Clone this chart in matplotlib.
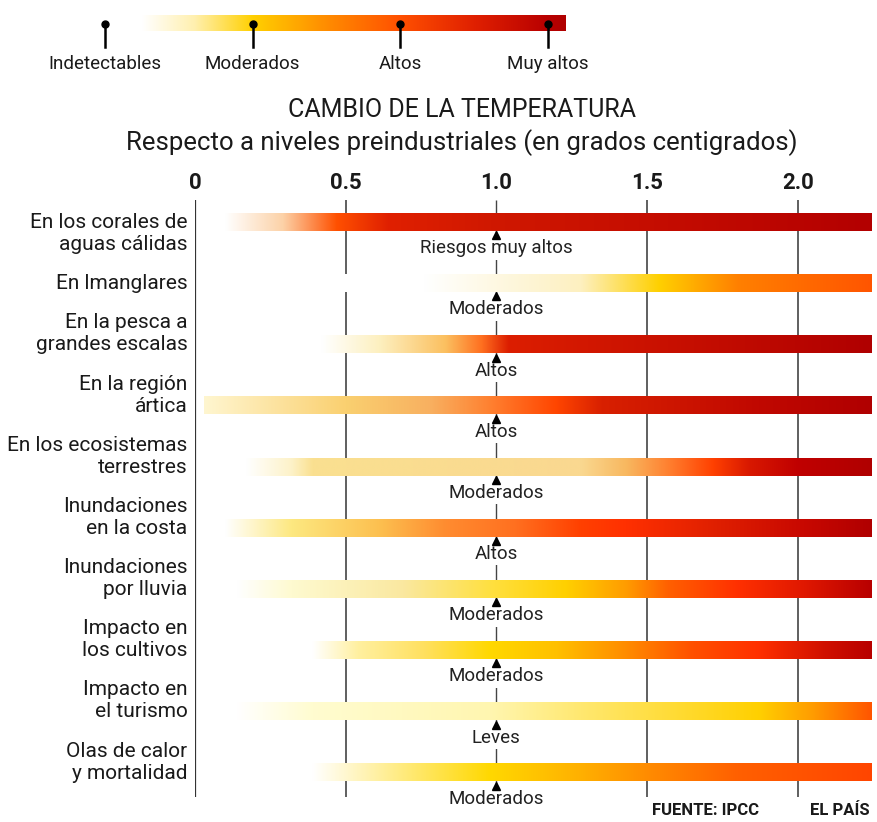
import numpy as np
import matplotlib
matplotlib.use("Agg")
import matplotlib.pyplot as plt

plt.rcParams['font.family'] = ['Roboto', 'DejaVu Sans']

# datos
categorias = ["En los corales de\naguas cálidas", "En lmanglares", "En la pesca a\ngrandes escalas",
              "En la región\nártica", "En los ecosistemas\nterrestres", "Inundaciones\nen la costa",
              "Inundaciones\npor lluvia", "Impacto en\nlos cultivos", "Impacto en\nel turismo",
              "Olas de calor\ny mortalidad"]
riesgo_1grado = ["Riesgos muy altos", "Moderados", "Altos", "Altos", "Moderados", "Altos",
                 "Moderados", "Moderados", "Leves", "Moderados"]
ticks = [0, 0.5, 1.0, 1.5, 2.0]
tick_labels = ["0", "0.5", "1.0", "1.5", "2.0"]
x_ini, x_max = 0.03, 2.245

# gradiente de cada barra: (grados, color)
grad_corales = [(0.0, "#ffffff"), (0.10, "#ffffff"), (0.29, "#fcd2a8"), (0.47, "#ff5000"),
                (0.64, "#e02000"), (0.98, "#d01800"), (1.57, "#c40c00"), (2.245, "#b30000")]
grad_manglares = [(0.0, "#ffffff"), (0.76, "#ffffff"), (1.28, "#fdf0c0"), (1.54, "#ffd000"),
                  (1.80, "#ff8000"), (2.02, "#ff6a00"), (2.245, "#ff5500")]
grad_pesca = [(0.0, "#ffffff"), (0.42, "#ffffff"), (0.61, "#fdf0c0"), (0.83, "#fbc060"),
              (0.95, "#ff7020"), (1.04, "#dc1e00"), (1.57, "#c81000"), (2.245, "#b00000")]
grad_artica = [(0.0, "#fffbe8"), (0.03, "#fff6d0"), (0.5, "#fad070"), (0.78, "#f8b060"),
               (0.98, "#ff8030"), (1.2, "#ff4500"), (1.35, "#d82000"), (1.87, "#c00800"),
               (2.245, "#b00000")]
grad_terrestres = [(0.0, "#ffffff"), (0.17, "#ffffff"), (0.32, "#fdf2c8"), (0.39, "#fae090"),
                   (1.28, "#fad890"), (1.43, "#f8b860"), (1.57, "#ff8030"), (1.72, "#ff4000"),
                   (1.84, "#d81800"), (2.0, "#c00000"), (2.245, "#b00000")]
grad_costa = [(0.0, "#ffffff"), (0.10, "#ffffff"), (0.32, "#fde880"), (0.61, "#fcc050"),
              (0.83, "#ff8c30"), (1.06, "#ff7020"), (1.28, "#ff4000"), (1.43, "#ff3000"),
              (1.72, "#e02000"), (2.02, "#c80800"), (2.245, "#b00000")]
grad_lluvia = [(0.0, "#ffffff"), (0.14, "#ffffff"), (0.32, "#fefad0"), (0.69, "#fae8a0"),
               (0.98, "#ffe040"), (1.23, "#ffd000"), (1.43, "#ff9c00"), (1.57, "#ff6000"),
               (1.80, "#ff3000"), (2.02, "#e01800"), (2.245, "#b80000")]
grad_cultivos = [(0.0, "#ffffff"), (0.39, "#ffffff"), (0.54, "#fff0a0"), (0.76, "#ffe060"),
                 (0.98, "#ffd800"), (1.20, "#ffc000"), (1.43, "#ff8c00"), (1.65, "#ff5000"),
                 (1.87, "#ff3000"), (2.09, "#d01000"), (2.245, "#b80000")]
grad_turismo = [(0.0, "#ffffff"), (0.14, "#ffffff"), (0.39, "#fffcd0"), (0.98, "#fff6b0"),
                (1.28, "#ffe870"), (1.87, "#ffd000"), (2.05, "#ff9c00"), (2.245, "#ff5500")]
grad_olas = [(0.0, "#ffffff"), (0.39, "#ffffff"), (0.61, "#fff0a0"), (0.98, "#ffd800"),
             (1.28, "#ffb000"), (1.50, "#ff8c00"), (1.80, "#ff6000"), (2.245, "#ff4500")]
gradientes = [grad_corales, grad_manglares, grad_pesca, grad_artica, grad_terrestres,
              grad_costa, grad_lluvia, grad_cultivos, grad_turismo, grad_olas]

# leyenda (posiciones en unidades de nivel: 0 = Indetectables ... 3 = Muy altos)
niveles = ["Indetectables", "Moderados", "Altos", "Muy altos"]
grad_leyenda = [(-0.7, "#ffffff"), (0.25, "#ffffff"), (0.6, "#fff0b0"), (1.0, "#ffd000"),
                (1.5, "#ff8c00"), (2.0, "#ff5000"), (2.5, "#e02000"), (3.0, "#b80000"),
                (3.12, "#b00000")]


def to_rgb_array(stops, xs):
    pos = [s[0] for s in stops]
    cols = np.array([matplotlib.colors.to_rgb(s[1]) for s in stops])
    return np.stack([np.interp(xs, pos, cols[:, k]) for k in range(3)], axis=-1)


W, H = 877, 822
fig = plt.figure(figsize=(W / 100, H / 100), dpi=100)

# eje principal
ax = fig.add_axes([195 / W, 1 - 797 / H, 678 / W, 597 / H])
y_top, y_bot = -0.36, 9.4
for s in ax.spines.values():
    s.set_visible(False)
ax.set_yticks([])
ax.xaxis.tick_top()
ax.set_xticks(ticks)
ax.set_xticklabels(tick_labels, fontsize=16, fontweight='bold', color='#1a1a1a')
ax.tick_params(axis='x', length=0, pad=4)

ax.vlines(0, y_top, y_bot, color='#333333', lw=1.6, zorder=5)
ax.vlines([0.5, 1.5, 2.0], y_top, y_bot, color='#444444', lw=1.2, zorder=1)
ax.vlines(1.0, y_top, y_bot, color='#444444', lw=1.0, zorder=1)

h = 0.29
xs = np.linspace(x_ini, x_max, 800)
for i, (cat, riesgo, grad) in enumerate(zip(categorias, riesgo_1grado, gradientes)):
    img = to_rgb_array(grad, xs)[np.newaxis, :, :]
    ax.imshow(img, extent=[x_ini, x_max, i + h / 2, i - h / 2], aspect='auto',
              interpolation='bilinear', zorder=2)
    ax.plot(1.0, i + h / 2 + 0.07, marker='^', color='black', markersize=5.5, zorder=4)
    ax.text(1.0, i + 0.43, riesgo, ha='center', va='center', fontsize=13.5, color='#222222',
            zorder=3, bbox=dict(boxstyle='square,pad=0.12', fc='white', ec='none'))
    if i == 0:
        yl = i + 0.19
    elif "\n" in cat:
        yl = i - 0.17
    else:
        yl = i
    ax.text(-0.025, yl, cat, ha='right', va='center', fontsize=15, color='#1a1a1a',
            linespacing=1.2)

ax.set_xlim(0, 2.25)
ax.set_ylim(y_bot, y_top)

# capa de figura para leyenda, titulos y fuente
ov = fig.add_axes([0, 0, 1, 1], zorder=-1)
ov.axis('off')

leg_x0, leg_dx = 105, 147.5
lx = np.linspace(-0.68, 3.12, 600)
limg = to_rgb_array(grad_leyenda, lx)[np.newaxis, :, :]
ov.imshow(limg, extent=[leg_x0 - 0.68 * leg_dx, leg_x0 + 3.12 * leg_dx, 31, 15],
          aspect='auto', zorder=1)
for k, nivel in enumerate(niveles):
    px = leg_x0 + k * leg_dx
    ov.plot([px, px], [24, 47], color='black', lw=1.8, zorder=2)
    ov.plot(px, 24, 'o', color='black', markersize=5, zorder=3)
    ov.text(px, 64, nivel, ha='center', va='center', fontsize=13.5, color='#1a1a1a')
ov.set_xlim(0, W)
ov.set_ylim(H, 0)

ov.text(462, 110, "CAMBIO DE LA TEMPERATURA", ha='center', va='center', fontsize=18,
        color='#1a1a1a')
ov.text(462, 143, "Respecto a niveles preindustriales (en grados centigrados)",
        ha='center', va='center', fontsize=18.5, color='#1a1a1a')
ov.text(705, 810, "FUENTE: IPCC", ha='center', va='center', fontsize=12, fontweight='bold',
        color='#1a1a1a')
ov.text(870, 810, "EL PAÍS", ha='right', va='center', fontsize=12, fontweight='bold',
        color='#1a1a1a')

fig.savefig("out.png", dpi=100, facecolor='white')
